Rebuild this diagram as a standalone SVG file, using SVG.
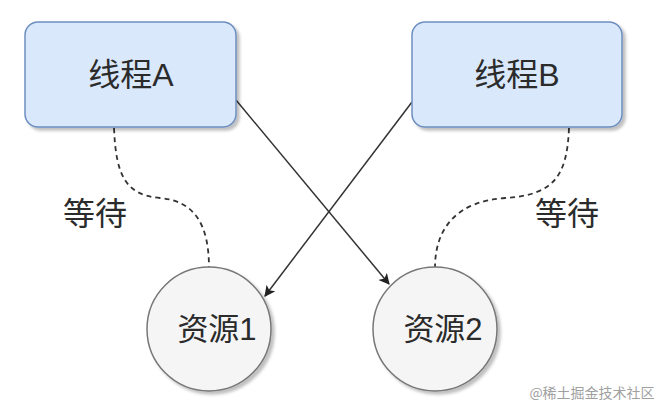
<svg xmlns="http://www.w3.org/2000/svg" width="667" height="414" viewBox="0 0 667 414">
<defs>
<style>
.box{fill:#dae8fc;stroke:#6c8ebf;stroke-width:1.5}
.res{fill:#f5f5f5;stroke:#777;stroke-width:1.5}
.lbl{font-family:"Liberation Sans","Noto Sans CJK SC",sans-serif;fill:#2b2b2b;text-anchor:middle}
.edge{fill:none;stroke:#333;stroke-width:1.5}
.wait{fill:none;stroke:#333;stroke-width:1.8;stroke-dasharray:5 4}
</style>
<filter id="sh" x="-20%" y="-20%" width="140%" height="140%">
<feDropShadow dx="3" dy="3" stdDeviation="1.5" flood-color="#000" flood-opacity="0.25"/>
</filter>
<marker id="arr" viewBox="0 0 10 10" refX="9" refY="5" markerWidth="11" markerHeight="11" markerUnits="userSpaceOnUse" orient="auto">
<path d="M0,0 L10,5 L0,10 L2.5,5 Z" fill="#222"/>
</marker>
</defs>
<rect width="667" height="414" fill="#ffffff"/>
<g id="connectors">
<path class="wait" d="M114,128 C116,175 125,195 160,198 C195,201 209,225 209,268"/>
<path class="wait" d="M569,128 C567,175 555,195 505,198 C460,201 435,225 435,268"/>
<line class="edge" x1="236" y1="100" x2="389" y2="284" marker-end="url(#arr)"/>
<line class="edge" x1="412" y1="102" x2="265" y2="296" marker-end="url(#arr)"/>
</g>
<g id="threadA">
<rect class="box" x="25" y="22" width="211" height="105" rx="13" filter="url(#sh)"/>
<text class="lbl" x="131" y="86" font-size="32">线程A</text>
</g>
<g id="threadB">
<rect class="box" x="412" y="22" width="210" height="105" rx="13" filter="url(#sh)"/>
<text class="lbl" x="517" y="86" font-size="32">线程B</text>
</g>
<g id="resource1">
<circle class="res" cx="209" cy="329" r="62" filter="url(#sh)"/>
<text class="lbl" x="217" y="340" font-size="31">资源1</text>
</g>
<g id="resource2">
<circle class="res" cx="435" cy="329" r="62" filter="url(#sh)"/>
<text class="lbl" x="443" y="340" font-size="31">资源2</text>
</g>
<g id="labels">
<text class="lbl" x="95" y="225" font-size="32">等待</text>
<text class="lbl" x="567" y="225" font-size="32">等待</text>
</g>
<text x="592" y="398" font-family="'Noto Sans CJK SC',sans-serif" font-size="14" fill="#a0a0a0" text-anchor="middle">@稀土掘金技术社区</text>
</svg>
